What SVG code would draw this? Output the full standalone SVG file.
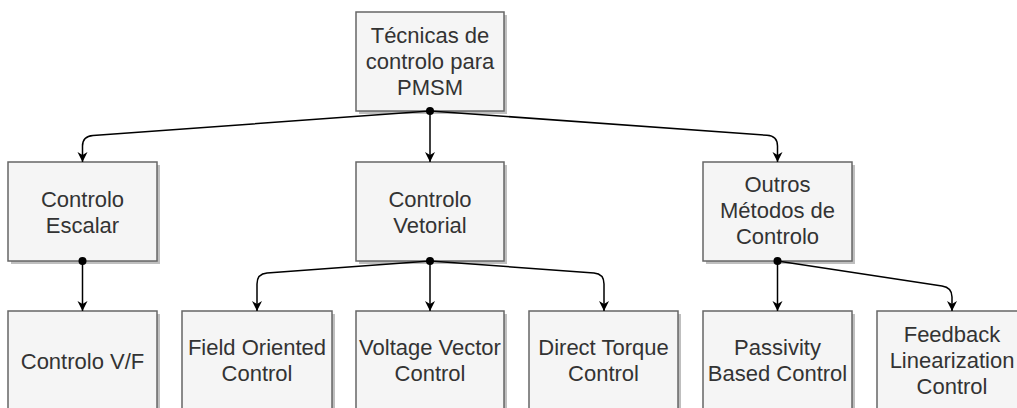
<svg xmlns="http://www.w3.org/2000/svg" width="1017" height="408" viewBox="0 0 1017 408">
<style>
.box{fill:#f5f5f5;stroke:#666666;stroke-width:1.5}
.sh{fill:#000000;fill-opacity:0.25}
.t{font-family:"Liberation Sans",Arial,sans-serif;font-size:22px;fill:#333333;text-anchor:middle}
.c{fill:none;stroke:#000000;stroke-width:1.5}
.dot{fill:#000000}
</style>
<defs>
<marker id="arr" markerUnits="userSpaceOnUse" markerWidth="12" markerHeight="12" viewBox="0 0 12 12" refX="10" refY="5" orient="auto">
<path d="M0,0 L10,5 L0,10 L3,5 Z" fill="#000000"/>
</marker>
</defs>
<rect width="1017" height="408" fill="#ffffff"/>
<g id="root">
<rect class="sh" x="359" y="15" width="148" height="99"/>
<rect class="box" x="356" y="12" width="148" height="99"/>
<text class="t" x="430" y="43">Técnicas de</text>
<text class="t" x="430" y="69">controlo para</text>
<text class="t" x="430" y="95">PMSM</text>
</g>
<g id="escalar">
<rect class="sh" x="11" y="165" width="149" height="99"/>
<rect class="box" x="8" y="162" width="149" height="99"/>
<text class="t" x="82.5" y="206.5">Controlo</text>
<text class="t" x="82.5" y="232.5">Escalar</text>
</g>
<g id="vetorial">
<rect class="sh" x="359" y="165" width="148" height="99"/>
<rect class="box" x="356" y="162" width="148" height="99"/>
<text class="t" x="430" y="206.5">Controlo</text>
<text class="t" x="430" y="232.5">Vetorial</text>
</g>
<g id="outros">
<rect class="sh" x="706" y="165" width="149" height="99"/>
<rect class="box" x="703" y="162" width="149" height="99"/>
<text class="t" x="777.5" y="192">Outros</text>
<text class="t" x="777.5" y="218">Métodos de</text>
<text class="t" x="777.5" y="244">Controlo</text>
</g>
<g id="vf">
<rect class="sh" x="11" y="314" width="149" height="99"/>
<rect class="box" x="8" y="311" width="149" height="99"/>
<text class="t" x="82.5" y="368.5">Controlo V/F</text>
</g>
<g id="foc">
<rect class="sh" x="185" y="314" width="150" height="99"/>
<rect class="box" x="182" y="311" width="150" height="99"/>
<text class="t" x="257" y="355">Field Oriented</text>
<text class="t" x="257" y="381">Control</text>
</g>
<g id="vvc">
<rect class="sh" x="359" y="314" width="148" height="99"/>
<rect class="box" x="356" y="311" width="148" height="99"/>
<text class="t" x="430" y="355">Voltage Vector</text>
<text class="t" x="430" y="381">Control</text>
</g>
<g id="dtc">
<rect class="sh" x="532" y="314" width="149" height="99"/>
<rect class="box" x="529" y="311" width="149" height="99"/>
<text class="t" x="603.5" y="355">Direct Torque</text>
<text class="t" x="603.5" y="381">Control</text>
</g>
<g id="pbc">
<rect class="sh" x="706" y="314" width="149" height="99"/>
<rect class="box" x="703" y="311" width="149" height="99"/>
<text class="t" x="777.5" y="355">Passivity</text>
<text class="t" x="777.5" y="381">Based Control</text>
</g>
<g id="flc">
<rect class="sh" x="880" y="314" width="150" height="99"/>
<rect class="box" x="877" y="311" width="150" height="99"/>
<text class="t" x="952" y="342">Feedback</text>
<text class="t" x="952" y="368">Linearization</text>
<text class="t" x="952" y="394">Control</text>
</g>
<g id="connectors">
<path class="c" marker-end="url(#arr)" d="M430,111 L93,135.5 Q82.5,136.3 82.5,146 L82.5,162"/>
<path class="c" marker-end="url(#arr)" d="M430,111 L430,162"/>
<path class="c" marker-end="url(#arr)" d="M430,111 L767,135.3 Q777.5,136 777.5,146 L777.5,162"/>
<path class="c" marker-end="url(#arr)" d="M82.5,261 L82.5,311"/>
<path class="c" marker-end="url(#arr)" d="M430,261 L267,273 Q257,273.8 257,284 L257,311"/>
<path class="c" marker-end="url(#arr)" d="M430,261 L430,311"/>
<path class="c" marker-end="url(#arr)" d="M430,261 L594,273 Q604,273.8 604,284 L604,311"/>
<path class="c" marker-end="url(#arr)" d="M777.5,261 L777.5,311"/>
<path class="c" marker-end="url(#arr)" d="M777.5,261 L942,286 Q952,287.5 952,297 L952,311"/>
<circle class="dot" cx="430" cy="111" r="4"/>
<circle class="dot" cx="82.5" cy="261" r="4"/>
<circle class="dot" cx="430" cy="261" r="4"/>
<circle class="dot" cx="777.5" cy="261" r="4"/>
</g>
</svg>
